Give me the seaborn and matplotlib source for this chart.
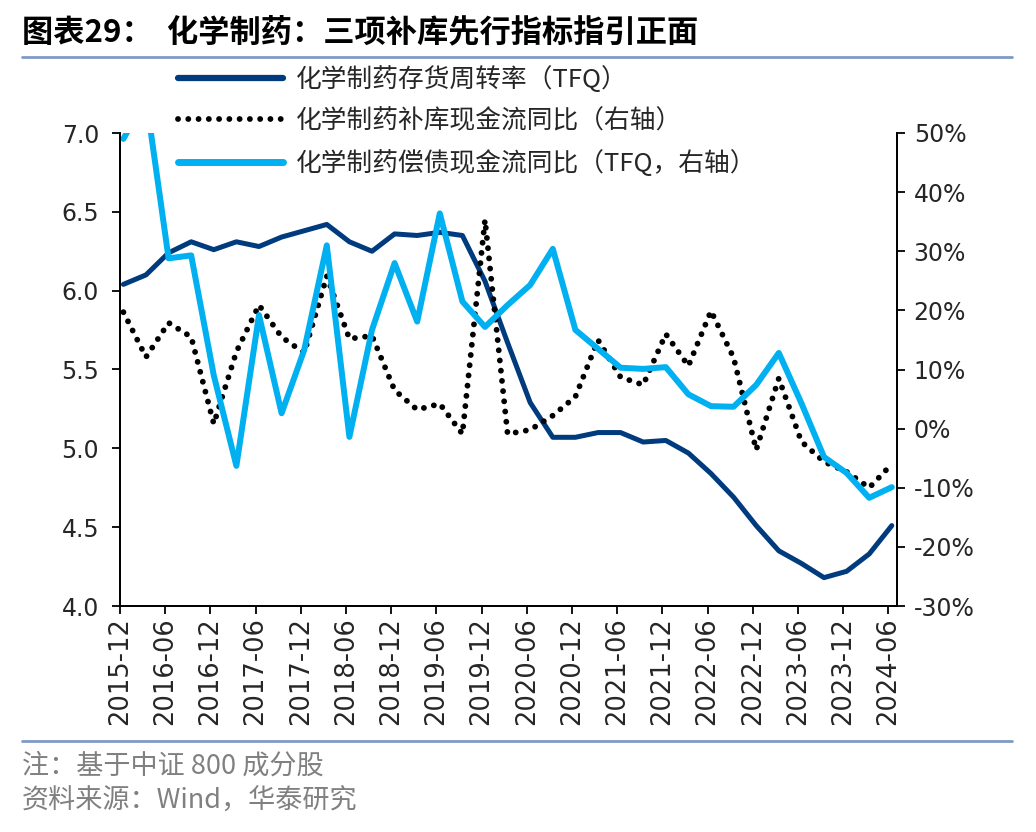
import numpy as np
import pandas as pd
import matplotlib
matplotlib.use("Agg")
import matplotlib.pyplot as plt
from matplotlib.lines import Line2D
from matplotlib.ticker import FuncFormatter, MultipleLocator
import seaborn as sns

# ---------------- data ----------------
quarters = ["2015-12", "2016-03", "2016-06", "2016-09", "2016-12", "2017-03", "2017-06",
            "2017-09", "2017-12", "2018-03", "2018-06", "2018-09", "2018-12", "2019-03",
            "2019-06", "2019-09", "2019-12", "2020-03", "2020-06", "2020-09", "2020-12",
            "2021-03", "2021-06", "2021-09", "2021-12", "2022-03", "2022-06", "2022-09",
            "2022-12", "2023-03", "2023-06", "2023-09", "2023-12", "2024-03", "2024-06"]

inventory_turnover = [6.04, 6.10, 6.24, 6.31, 6.26, 6.31, 6.28, 6.34, 6.38, 6.42, 6.31, 6.25,
                      6.36, 6.35, 6.37, 6.35, 6.06, 5.67, 5.29, 5.07, 5.07, 5.10, 5.10, 5.04,
                      5.05, 4.97, 4.84, 4.69, 4.51, 4.35, 4.27, 4.18, 4.22, 4.33, 4.51]

restock_cf_yoy = [19.7, 12.1, 17.9, 15.5, 0.8, 13.0, 20.9, 15.5, 12.8, 25.8, 15.2, 15.7,
                  6.5, 3.2, 4.2, -0.9, 35.3, -0.9, -0.2, 2.2, 5.4, 15.0, 8.7, 7.4,
                  16.0, 10.6, 19.9, 12.0, -3.6, 8.5, -2.2, -5.6, -7.3, -10.0, -6.0]

repay_cf_yoy = [49.0, 56.0, 28.8, 29.3, 9.0, -6.3, 19.2, 2.6, 13.3, 31.0, -1.4, 16.7,
                28.0, 18.1, 36.4, 21.5, 17.2, 20.9, 24.3, 30.4, 16.7, 13.5, 10.3, 10.1,
                10.4, 5.8, 3.8, 3.7, 7.4, 12.8, 4.3, -4.8, -7.5, -11.7, -9.9]

tick_labels = quarters[::2]

label_turnover = "化学制药存货周转率（TFQ）"
label_restock = "化学制药补库现金流同比（右轴）"
label_repay = "化学制药偿债现金流同比（TFQ，右轴）"

title_text = "图表29：  化学制药：三项补库先行指标指引正面"
note_text = "注：基于中证 800 成分股"
source_text = "资料来源：Wind，华泰研究"

# ---------------- style ----------------
sns.set_theme(style="ticks")
plt.rcParams["font.family"] = ["Noto Sans CJK SC", "DejaVu Sans"]
plt.rcParams["axes.unicode_minus"] = False

DARK = "#003B7E"
LIGHT = "#00B0F0"
RULE = "#7F9BC4"

df = pd.DataFrame({
    "pos": np.arange(len(quarters)) + 0.15,
    "turnover": inventory_turnover,
    "restock": restock_cf_yoy,
    "repay": repay_cf_yoy,
})

fig = plt.figure(figsize=(10.36, 8.32), dpi=100)
ax = fig.add_axes([120 / 1036, 1 - 606 / 832, (897 - 120) / 1036, (606 - 133) / 832])
ax2 = ax.twinx()

sns.lineplot(data=df, x="pos", y="turnover", ax=ax, color=DARK, linewidth=3.6,
             label=label_turnover, legend=False)
sns.lineplot(data=df, x="pos", y="restock", ax=ax2, color="black", linewidth=4.2,
             linestyle=(0, (0.01, 1.75)), dash_capstyle="round", label=label_restock,
             legend=False)
sns.lineplot(data=df, x="pos", y="repay", ax=ax2, color=LIGHT, linewidth=4.3,
             label=label_repay, legend=False)

# axes ranges
ax.set_xlim(0, 34.38)
ax.set_ylim(4.0, 7.0)
ax2.set_ylim(-30, 50)
ax.yaxis.set_major_locator(MultipleLocator(0.5))
ax.yaxis.set_major_formatter(FuncFormatter(lambda v, p: f"{v:.1f}"))
ax2.yaxis.set_major_locator(MultipleLocator(10))
ax2.yaxis.set_major_formatter(FuncFormatter(lambda v, p: f"{v:.0f}%"))

ax.set_xticks(np.arange(0, len(quarters), 2))
ax.set_xticklabels(tick_labels, rotation=90, family="DejaVu Sans", fontsize=18.5)
ax.set_xlabel("")
ax.set_ylabel("")
ax2.set_ylabel("")

for a in (ax, ax2):
    a.spines["top"].set_visible(False)
    for s in ("left", "right", "bottom"):
        a.spines[s].set_color("black")
        a.spines[s].set_linewidth(1.3)
    a.grid(False)

ax.tick_params(axis="x", direction="out", length=6, width=1.3, pad=2, color="black")
ax.tick_params(axis="y", direction="out", length=6, width=1.3, pad=9, color="black",
               labelsize=17)
ax2.tick_params(axis="y", direction="out", length=6, width=1.3, pad=6, color="black",
                labelsize=17)
for lab in ax.get_yticklabels() + ax2.get_yticklabels():
    lab.set_family("DejaVu Sans")

# legend
handles = [
    Line2D([], [], color=DARK, linewidth=4.5),
    Line2D([], [], color="black", linewidth=4.2, linestyle=(0, (0.01, 1.75)),
           dash_capstyle="round"),
    Line2D([], [], color=LIGHT, linewidth=5),
]
fig.legend(handles, [label_turnover, label_restock, label_repay],
           loc="upper left", bbox_to_anchor=(178 / 1036, 1 - 66 / 832),
           frameon=False, fontsize=18.5, handlelength=4.1, handletextpad=0.47,
           labelspacing=0.6, borderpad=0, borderaxespad=0)

# title, rules, footnotes
fig.text(22 / 1036, 1 - 32 / 832, title_text, fontsize=22.5, fontweight="bold",
         ha="left", va="center", color="black")
fig.add_artist(Line2D([22 / 1036, 1012 / 1036], [1 - 57 / 832, 1 - 57 / 832],
                      color=RULE, linewidth=2, transform=fig.transFigure))
fig.add_artist(Line2D([22 / 1036, 1012 / 1036], [1 - 741 / 832, 1 - 741 / 832],
                      color=RULE, linewidth=2, transform=fig.transFigure))
fig.text(22 / 1036, 1 - 766 / 832, note_text, fontsize=19.5, ha="left", va="center",
         color="#808080")
fig.text(22 / 1036, 1 - 801 / 832, source_text, fontsize=19.5, ha="left", va="center",
         color="#808080")

fig.savefig("out.png", dpi=100)
